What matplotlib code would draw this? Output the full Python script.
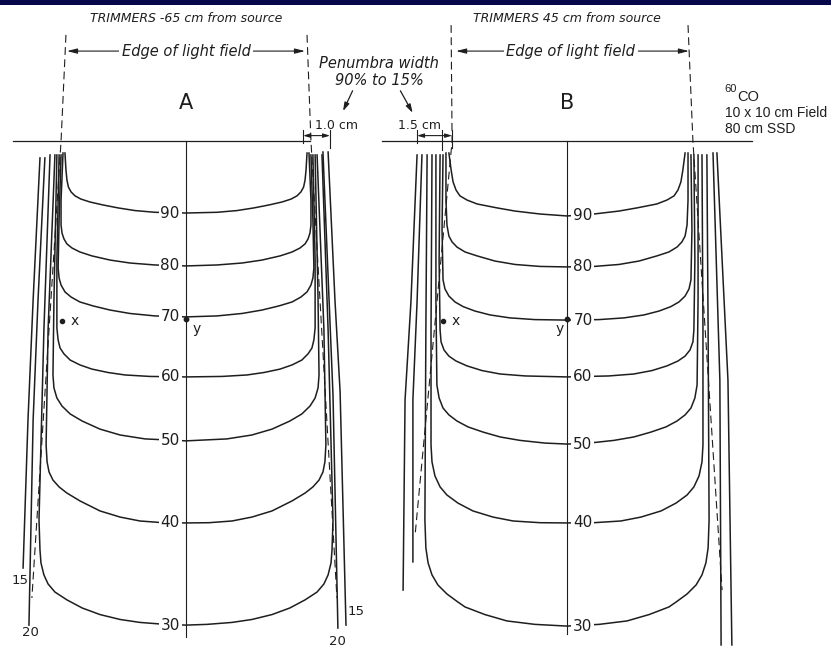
import matplotlib
matplotlib.use('Agg')
import matplotlib.pyplot as plt
from matplotlib.patches import Rectangle

# isodose curves for a 60Co 10x10 field, 80 cm SSD.
# x = lateral distance from the central axis (cm), d = depth below surface (cm)
# only the left half of each curve is listed, the right half is its mirror
levels = [90, 80, 70, 60, 50, 40, 30]

# panel A, trimmers -65 cm from source
A90_x = [-4.94, -4.90, -4.86, -4.80, -4.69, -4.53, -4.29, -3.92, -3.39, -2.78, -2.08, -1.27, 0]
A90_d = [0.49, 1.18, 1.59, 1.88, 2.08, 2.24, 2.37, 2.49, 2.61, 2.73, 2.84, 2.91, 2.94]
A80_x = [-5.02, -5.10, -5.10, -5.06, -4.98, -4.86, -4.65, -4.33, -3.84, -3.10, -2.29, -1.27, 0]
A80_d = [0.49, 2.41, 3.43, 3.76, 4.00, 4.20, 4.37, 4.53, 4.69, 4.86, 4.98, 5.06, 5.10]
A70_x = [-5.10, -5.18, -5.22, -5.18, -5.10, -4.94, -4.69, -4.33, -3.80, -3.10, -2.29, -1.27, 0]
A70_d = [0.57, 3.22, 5.18, 5.59, 5.88, 6.16, 6.37, 6.57, 6.73, 6.90, 7.04, 7.14, 7.18]
A60_x = [-5.18, -5.27, -5.27, -5.22, -5.14, -4.98, -4.73, -4.33, -3.84, -3.18, -2.49, -1.47, 0]
A60_d = [0.57, 4.86, 7.63, 8.12, 8.45, 8.69, 8.94, 9.14, 9.31, 9.45, 9.55, 9.61, 9.63]
A50_x = [-5.27, -5.39, -5.43, -5.39, -5.27, -5.06, -4.73, -4.24, -3.51, -2.69, -1.67, 0]
A50_d = [0.57, 6.49, 9.55, 10.08, 10.49, 10.82, 11.14, 11.43, 11.76, 12.00, 12.16, 12.24]
A40_x = [-5.35, -5.63, -5.71, -5.67, -5.59, -5.43, -5.18, -4.86, -4.33, -3.51, -2.69, -1.88, -0.94, 0]
A40_d = [0.57, 7.71, 12.41, 13.10, 13.51, 13.84, 14.12, 14.37, 14.69, 15.10, 15.35, 15.51, 15.58, 15.59]
A30_x = [-5.55, -5.80, -6.00, -5.96, -5.92, -5.80, -5.63, -5.35, -4.86, -4.24, -3.51, -2.69, -1.88, -0.86, 0]
A30_d = [0.57, 7.71, 15.47, 16.69, 17.22, 17.71, 18.08, 18.41, 18.73, 19.06, 19.33, 19.53, 19.65, 19.73, 19.76]

# panel B, trimmers 45 cm from source
B90_x = [-4.82, -4.73, -4.65, -4.53, -4.37, -4.08, -3.67, -2.86, -2.12, -1.10, 0]
B90_d = [0.49, 1.18, 1.67, 2.00, 2.24, 2.41, 2.57, 2.73, 2.86, 2.98, 3.06]
B80_x = [-4.94, -4.94, -4.90, -4.82, -4.69, -4.49, -4.16, -3.67, -2.94, -2.12, -1.10, 0]
B80_d = [0.49, 2.41, 3.43, 3.88, 4.12, 4.33, 4.53, 4.69, 4.90, 5.04, 5.12, 5.14]
B70_x = [-5.06, -5.10, -5.06, -4.98, -4.82, -4.57, -4.24, -3.76, -3.14, -2.33, -1.31, 0]
B70_d = [0.57, 3.63, 5.67, 6.04, 6.33, 6.57, 6.76, 6.94, 7.10, 7.22, 7.29, 7.31]
B60_x = [-5.18, -5.22, -5.18, -5.14, -5.02, -4.82, -4.53, -4.08, -3.47, -2.73, -1.71, 0]
B60_d = [0.57, 4.86, 7.71, 8.20, 8.53, 8.78, 8.98, 9.18, 9.37, 9.51, 9.59, 9.63]
B50_x = [-5.35, -5.35, -5.31, -5.22, -5.06, -4.82, -4.49, -4.04, -3.43, -2.73, -1.92, -0.90, 0]
B50_d = [0.57, 6.49, 9.96, 10.49, 10.90, 11.18, 11.43, 11.67, 11.88, 12.08, 12.22, 12.33, 12.37]
B40_x = [-5.51, -5.55, -5.55, -5.51, -5.39, -5.18, -4.90, -4.45, -3.84, -3.02, -2.20, -1.10, 0]
B40_d = [0.57, 7.71, 12.41, 13.10, 13.67, 14.12, 14.45, 14.78, 15.10, 15.35, 15.51, 15.58, 15.59]
B30_x = [-5.71, -5.76, -5.80, -5.76, -5.67, -5.51, -5.27, -4.90, -4.45, -4.16, -3.35, -2.45, -1.31, 0]
B30_d = [0.57, 7.71, 15.47, 16.61, 17.22, 17.71, 18.12, 18.49, 18.82, 19.02, 19.33, 19.59, 19.73, 19.80]

# low dose lines in the penumbra (15 % and 20 %), each side on its own
A_l15_x = [-5.96, -6.24, -6.45, -6.65]
A_l15_d = [0.69, 6.49, 11.39, 17.43]
A_l20_x = [-5.76, -6.04, -6.24, -6.41]
A_l20_d = [0.69, 6.49, 11.39, 19.76]
A_r15_x = [5.80, 6.08, 6.29, 6.53]
A_r15_d = [0.45, 6.49, 10.24, 19.76]
A_r20_x = [5.59, 5.84, 6.00, 6.20]
A_r20_d = [0.45, 6.49, 10.37, 19.88]
B_l15_x = [-6.12, -6.37, -6.61, -6.69]
B_l15_d = [0.57, 6.57, 10.57, 18.33]
B_l20_x = [-5.92, -6.12, -6.29, -6.29]
B_l20_d = [0.57, 6.57, 10.57, 17.18]
B_r15_x = [6.12, 6.57, 6.73]
B_r15_d = [0.49, 9.76, 20.57]
B_r20_x = [5.96, 6.24, 6.29]
B_r20_d = [0.49, 9.76, 20.57]

# geometric edge of the light field (dashed)
A_ldash_x = [-4.90, -5.10, -6.29]
A_ldash_d = [-4.33, 0, 18.65]
A_rdash_x = [4.94, 5.10, 6.16]
A_rdash_d = [-4.33, 0, 18.65]
B_ldash_x = [-4.73, -4.69, -6.20]
B_ldash_d = [-4.73, 0, 16.08]
B_rdash_x = [4.94, 5.14, 6.33]
B_rdash_d = [-4.73, 0, 18.33]

# depth where the central axis line stops
A_axis_end = 20.24
B_axis_end = 20.12

ink = '#1e1e1e'
plt.rcParams['font.family'] = ['DejaVu Sans']

fig = plt.figure(figsize=(8.31, 6.55), dpi=100)
ax = fig.add_axes([0, 0, 1, 1])
ax.set_xlim(-7.592, 26.327)
ax.set_ylim(20.98, -5.755)
ax.axis('off')

# dark band along the top of the slide
fig.add_artist(Rectangle((0, 1 - 5 / 655), 1, 5 / 655, transform=fig.transFigure,
                         facecolor='#07074c', edgecolor='none', zorder=10))


def mirror(xs, ds):
    # left half + mirrored right half
    fx = list(xs) + [-v for v in reversed(xs[:-1])]
    fd = list(ds) + list(reversed(ds[:-1]))
    return fx, fd


def draw_panel(cx, curves, outer, dashes, axis_end, label_dx):
    ax.plot([cx, cx], [0, axis_end], color=ink, lw=0.8)
    for level, xs, ds in curves:
        fx, fd = mirror(xs, ds)
        ax.plot([cx + v for v in fx], fd, color=ink, lw=1.1, solid_joinstyle='round')
        ax.text(cx + label_dx, ds[-1], str(level), ha='center', va='center',
                fontsize=11, color=ink, zorder=5,
                bbox=dict(boxstyle='square,pad=0.12', fc='white', ec='none'))
    for xs, ds in outer:
        ax.plot([cx + v for v in xs], ds, color=ink, lw=1.1)
    for xs, ds in dashes:
        ax.plot([cx + v for v in xs], ds, color=ink, lw=0.8,
                linestyle=(0, (7, 4)))


a_curves = [(90, A90_x, A90_d), (80, A80_x, A80_d), (70, A70_x, A70_d),
            (60, A60_x, A60_d), (50, A50_x, A50_d), (40, A40_x, A40_d),
            (30, A30_x, A30_d)]
b_curves = [(90, B90_x, B90_d), (80, B80_x, B80_d), (70, B70_x, B70_d),
            (60, B60_x, B60_d), (50, B50_x, B50_d), (40, B40_x, B40_d),
            (30, B30_x, B30_d)]

cA = 0.0
cB = 15.551

draw_panel(cA, a_curves,
           [(A_l15_x, A_l15_d), (A_l20_x, A_l20_d), (A_r15_x, A_r15_d), (A_r20_x, A_r20_d)],
           [(A_ldash_x, A_ldash_d), (A_rdash_x, A_rdash_d)], A_axis_end, -0.65)
draw_panel(cB, b_curves,
           [(B_l15_x, B_l15_d), (B_l20_x, B_l20_d), (B_r15_x, B_r15_d), (B_r20_x, B_r20_d)],
           [(B_ldash_x, B_ldash_d), (B_rdash_x, B_rdash_d)], B_axis_end, 0.65)

# surface lines
ax.plot([-7.06, 5.06], [0, 0], color=ink, lw=0.9)
ax.plot([cB - 7.55, cB + 7.55], [0, 0], color=ink, lw=0.9)

# 15 / 20 labels in panel A
ax.text(-6.78, 17.92, '15', ha='center', va='center', fontsize=9.5, color=ink)
ax.text(-6.37, 20.08, '20', ha='center', va='center', fontsize=9.5, color=ink)
ax.text(6.95, 19.22, '15', ha='center', va='center', fontsize=9.5, color=ink)
ax.text(6.20, 20.41, '20', ha='center', va='center', fontsize=9.5, color=ink)

# points x and y
for cx, ytx in [(cA, 0.45), (cB, -0.29)]:
    ax.plot([cx - 5.06], [7.35], 'o', ms=3, color=ink)
    ax.text(cx - 4.72, 7.35, 'x', ha='left', va='center', fontsize=10, color=ink)
    ax.plot([cx], [7.25], 'o', ms=3.2, color=ink)
    ax.text(cx + ytx, 7.68, 'y', ha='center', va='center', fontsize=10, color=ink)

# titles over the panels
ax.text(cA, -5.02, 'TRIMMERS -65 cm from source', ha='center', va='center',
        fontsize=9, style='italic', color=ink)
ax.text(cB, -5.02, 'TRIMMERS 45 cm from source', ha='center', va='center',
        fontsize=9, style='italic', color=ink)
for cx, x0, x1, tx in [(cA, -4.86, 4.86, 0.0), (cB, -4.53, 4.98, 0.16)]:
    ax.annotate('', xy=(cx + x0, -3.67), xytext=(cx + x1, -3.67),
                arrowprops=dict(arrowstyle='<|-|>,head_length=0.6,head_width=0.15',
                                color=ink, lw=0.8, shrinkA=0, shrinkB=0))
    ax.text(cx + tx, -3.67, 'Edge of light field', ha='center', va='center',
            fontsize=10.5, style='italic', color=ink, zorder=5,
            bbox=dict(boxstyle='square,pad=0.15', fc='white', ec='none'))
ax.text(cA, -1.55, 'A', ha='center', va='center', fontsize=15, color=ink)
ax.text(cB, -1.55, 'B', ha='center', va='center', fontsize=15, color=ink)

# penumbra width markers
ax.text(7.88, -3.15, 'Penumbra width', ha='center', va='center', fontsize=10.5,
        style='italic', color=ink)
ax.text(7.88, -2.45, '90% to 15%', ha='center', va='center', fontsize=10.5,
        style='italic', color=ink)
ax.annotate('', xy=(6.41, -1.22), xytext=(6.80, -2.05),
            arrowprops=dict(arrowstyle='-|>,head_length=0.5,head_width=0.15',
                            color=ink, lw=0.9, shrinkA=0, shrinkB=0))
ax.annotate('', xy=(9.25, -1.15), xytext=(8.75, -2.05),
            arrowprops=dict(arrowstyle='-|>,head_length=0.5,head_width=0.15',
                            color=ink, lw=0.9, shrinkA=0, shrinkB=0))
ax.text(6.15, -0.62, '1.0 cm', ha='center', va='center', fontsize=9, color=ink)
ax.text(9.55, -0.62, '1.5 cm', ha='center', va='center', fontsize=9, color=ink)
for x0, x1 in [(4.78, 5.88), (cB - 6.12, cB - 4.69)]:
    ax.annotate('', xy=(x0, -0.22), xytext=(x1, -0.22),
                arrowprops=dict(arrowstyle='<|-|>,head_length=0.4,head_width=0.12',
                                color=ink, lw=0.8, shrinkA=0, shrinkB=0))
    ax.plot([x0, x0], [-0.45, 0.1], color=ink, lw=0.8)
    ax.plot([x1, x1], [-0.45, 0.3], color=ink, lw=0.8)
ax.plot([cB - 5.10, cB - 5.10], [-0.45, 0.35], color=ink, lw=0.8)

# source and field notes
note_font = ['Liberation Sans', 'DejaVu Sans']
ax.text(21.98, -2.12, '60', ha='left', va='center', fontsize=8, color=ink,
        family=note_font)
ax.text(22.52, -1.80, 'CO', ha='left', va='center', fontsize=10.5, color=ink,
        family=note_font)
ax.text(21.98, -1.14, '10 x 10 cm Field', ha='left', va='center', fontsize=10,
        color=ink, family=note_font)
ax.text(21.98, -0.50, '80 cm SSD', ha='left', va='center', fontsize=10,
        color=ink, family=note_font)

fig.savefig('out.png', dpi=100)
